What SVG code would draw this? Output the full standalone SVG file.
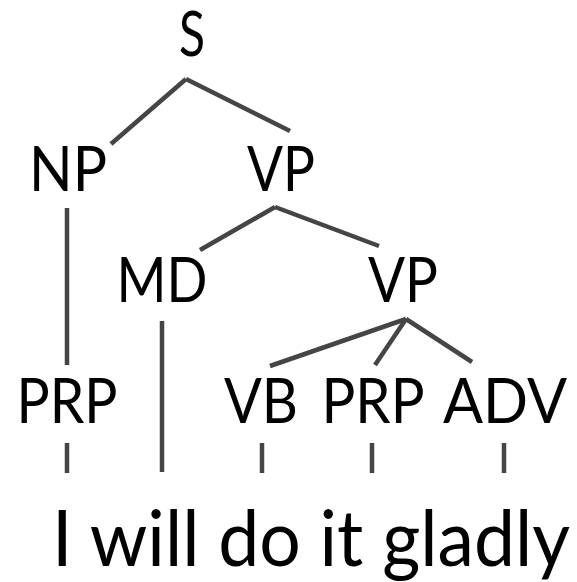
<svg xmlns="http://www.w3.org/2000/svg" width="577" height="582" viewBox="0 0 577 582">
<style>
.lbl{font-family:Lato,"Open Sans","Liberation Sans",sans-serif;font-size:61px;fill:#000;text-anchor:middle}
.word{font-family:Lato,"Open Sans","Liberation Sans",sans-serif;font-size:78px;fill:#000;text-anchor:middle}
.edge{stroke:#454545;stroke-width:4.5;fill:none}
</style>
<rect width="577" height="582" fill="#fff"/>
<g id="connectors">
<line class="edge" x1="186" y1="79" x2="111" y2="144"/>
<line class="edge" x1="186" y1="79" x2="290" y2="131"/>
<line class="edge" x1="67" y1="208" x2="67" y2="365"/>
<line class="edge" x1="275" y1="207" x2="200" y2="250"/>
<line class="edge" x1="275" y1="207" x2="379" y2="246"/>
<line class="edge" x1="162" y1="321" x2="162" y2="472"/>
<line class="edge" x1="406" y1="319" x2="270" y2="366"/>
<line class="edge" x1="406" y1="319" x2="375" y2="365"/>
<line class="edge" x1="406" y1="319" x2="472" y2="362"/>
<line class="edge" x1="67" y1="443" x2="67" y2="473"/>
<line class="edge" x1="262" y1="443" x2="262" y2="473"/>
<line class="edge" x1="372" y1="443" x2="372" y2="473"/>
<line class="edge" x1="504" y1="443" x2="504" y2="473"/>
</g>
<g id="S"><text class="lbl" x="192" y="56" textLength="26" lengthAdjust="spacingAndGlyphs">S</text></g>
<g id="NP"><text class="lbl" x="68" y="191" textLength="78" lengthAdjust="spacingAndGlyphs">NP</text></g>
<g id="VP1"><text class="lbl" x="281" y="191" textLength="68" lengthAdjust="spacingAndGlyphs">VP</text></g>
<g id="MD"><text class="lbl" x="162" y="302" textLength="91" lengthAdjust="spacingAndGlyphs">MD</text></g>
<g id="VP2"><text class="lbl" x="403" y="302" textLength="70" lengthAdjust="spacingAndGlyphs">VP</text></g>
<g id="PRP1"><text class="lbl" x="67" y="423" textLength="101" lengthAdjust="spacingAndGlyphs">PRP</text></g>
<g id="VB"><text class="lbl" x="261" y="423" textLength="74" lengthAdjust="spacingAndGlyphs">VB</text></g>
<g id="PRP2"><text class="lbl" x="373" y="423" textLength="103" lengthAdjust="spacingAndGlyphs">PRP</text></g>
<g id="ADV"><text class="lbl" x="505" y="423" textLength="124" lengthAdjust="spacingAndGlyphs">ADV</text></g>
<g id="sentence"><text class="word" x="311" y="566" textLength="518" lengthAdjust="spacingAndGlyphs">I will do it gladly</text></g>
</svg>
